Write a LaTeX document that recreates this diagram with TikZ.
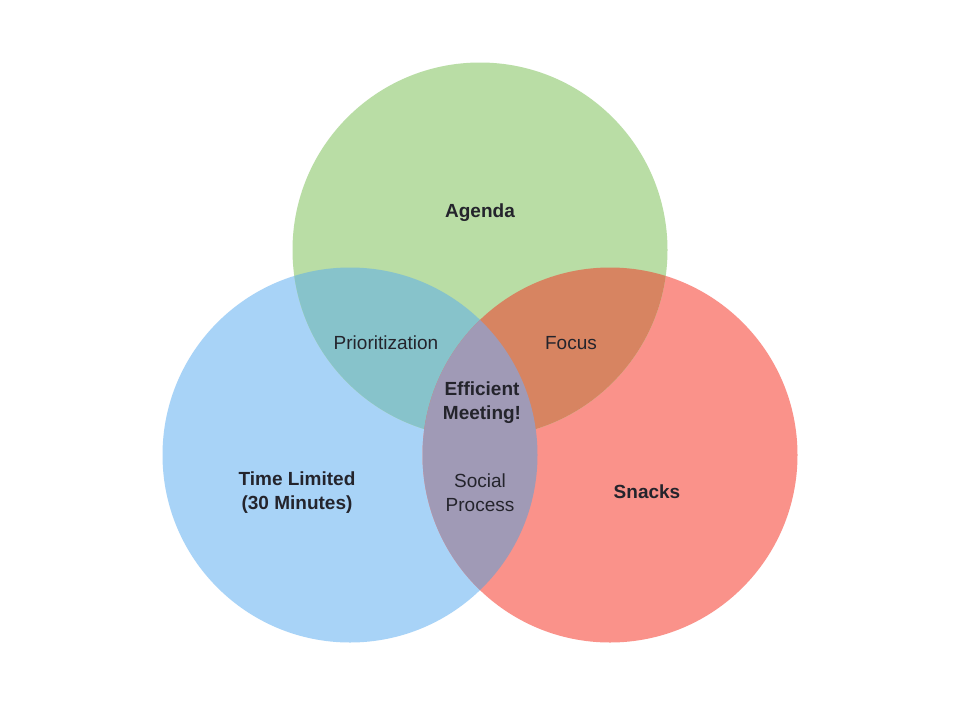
\documentclass[tikz,border=0pt]{standalone}
\usepackage{fontspec}
\setmainfont{Liberation Sans}
\definecolor{agendaC}{HTML}{B9DDA5}
\definecolor{timeC}{HTML}{A8D3F7}
\definecolor{snackC}{HTML}{FA928A}
\definecolor{tealC}{HTML}{87C3CB}
\definecolor{orangeC}{HTML}{D78461}
\definecolor{purpleC}{HTML}{A09AB6}
\definecolor{inkC}{HTML}{24242C}
\tikzset{
  lbl/.style={text=inkC, align=center, font=\fontsize{19}{24}\selectfont},
  blbl/.style={lbl, font=\fontsize{19}{24}\selectfont\bfseries}
}
\begin{document}
\begin{tikzpicture}[x=1pt,y=-1pt]
\useasboundingbox (0,0) rectangle (955,720);
\fill[white] (0,0) rectangle (955,720);
% circle centres and radius
\def\R{187.5}
\coordinate (G) at (480,250);
\coordinate (B) at (350,455);
\coordinate (S) at (610,455);
% base discs
\fill[timeC] (B) circle[radius=\R];
\fill[snackC] (S) circle[radius=\R];
\fill[agendaC] (G) circle[radius=\R];
% pairwise overlaps
\begin{scope}
  \clip (G) circle[radius=\R];
  \fill[tealC] (B) circle[radius=\R];
\end{scope}
\begin{scope}
  \clip (G) circle[radius=\R];
  \fill[orangeC] (S) circle[radius=\R];
\end{scope}
\begin{scope}
  \clip (B) circle[radius=\R];
  \fill[purpleC] (S) circle[radius=\R];
\end{scope}
% labels
\node[blbl] (agenda) at (480,213) {Agenda};
\node[lbl] (prio) at (386,343) {Prioritization};
\node[lbl] (focus) at (571,343) {Focus};
\node[blbl] (eff) at (482,402.5) {Efficient\\Meeting!};
\node[lbl] (social) at (480,492.5) {Social\\Process};
\node[blbl] (time) at (297,492.5) {Time Limited\\(30 Minutes)};
\node[blbl] (snacks) at (647,492) {Snacks};
\end{tikzpicture}
\end{document}
